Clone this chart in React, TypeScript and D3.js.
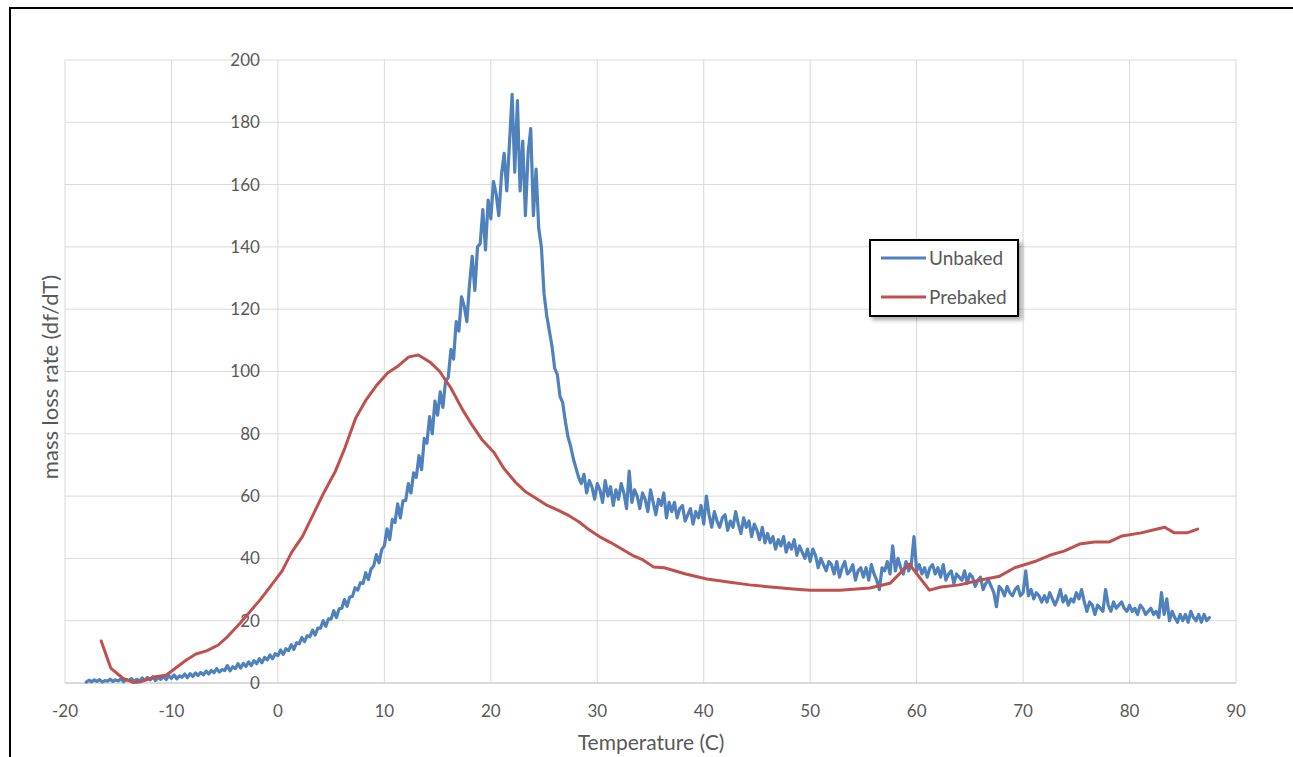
import React from "react";
import * as d3 from "d3";

// axis ticks
const xTicks = [-20, -10, 0, 10, 20, 30, 40, 50, 60, 70, 80, 90];
const yTicks = [0, 20, 40, 60, 80, 100, 120, 140, 160, 180, 200];

// Prebaked: smooth curve
const prebakedTemp = [
  -16.6, -15.7, -14.6, -13.6, -13.0, -11.5, -10.5, -9.6, -8.6, -7.7,
  -6.7, -5.6, -4.7, -3.6, -2.6, -1.6, -0.7, 0.4, 1.3, 2.3,
  3.3, 4.3, 5.4, 6.3, 7.3, 8.3, 9.3, 10.3, 11.3, 12.3,
  13.2, 14.3, 15.2, 16.2, 17.3, 18.2, 19.2, 20.3, 21.2, 22.3,
  23.3, 24.2, 25.3, 26.3, 27.2, 28.3, 29.3, 30.2, 31.3, 32.3,
  33.3, 34.3, 35.3, 36.3, 38.3, 40.3, 42.3, 44.3, 46.3, 48.4,
  50.0, 52.8, 55.6, 57.5, 59.3, 61.2, 62.3, 64.0, 65.9, 67.8,
  69.2, 71.1, 72.5, 73.9, 75.3, 76.7, 78.1, 79.3, 81.1, 82.2,
  83.3, 84.2, 85.4, 86.4,
];
const prebakedRate = [
  13.5, 4.8, 1.6, 0.2, 0.3, 2.0, 2.5, 4.8, 7.4, 9.3,
  10.3, 12.2, 15, 19, 23, 27, 31, 36, 42, 47,
  54, 61, 68, 75.5, 85, 91, 95.7, 99.5, 101.8, 104.7,
  105.3, 103, 100, 95, 88, 83, 78, 74, 69, 64.5,
  61.3, 59.4, 57, 55.5, 54, 51.7, 49, 47, 45, 43,
  41, 39.5, 37.2, 37, 35, 33.4, 32.4, 31.5, 30.8, 30.2,
  29.8, 29.8, 30.5, 32, 38.2, 29.8, 30.8, 31.5, 33, 34.3,
  37, 39, 41, 42.4, 44.6, 45.3, 45.3, 47.2, 48.2, 49.1,
  50, 48.2, 48.2, 49.4,
];

// Unbaked: noisy trace, sampled every 0.25 C starting at -18 C
const unbakedStart = -18;
const unbakedStep = 0.25;
const unbakedRate = [
  // -18 .. -13.25
  0.3, 0.9, 0.4, 1.0, 0.5, 1.1, 0.3, 0.8, 0.6, 1.2, 0.5, 1.0, 0.7, 1.3, 0.4, 1.1, 0.8, 1.4, 0.6, 1.2,
  // -13 .. -8.25
  0.7, 1.6, 0.9, 1.8, 1.0, 2.0, 0.8, 1.7, 1.2, 2.1, 1.1, 2.4, 1.5, 2.6, 1.3, 2.3, 1.8, 2.9, 1.7, 3.0,
  // -8 .. -3.25
  2.1, 3.2, 2.4, 3.4, 2.6, 3.8, 2.9, 4.0, 3.3, 4.6, 3.5, 4.3, 4.0, 5.6, 3.9, 5.2, 4.6, 6.2, 4.8, 6.3,
  // -3 .. 1.75
  5.3, 6.8, 5.6, 7.2, 6.2, 7.8, 6.5, 8.2, 7.4, 9.0, 7.8, 9.4, 8.8, 10.6, 9.2, 11.0, 10.4, 12.3, 10.8, 12.9,
  // 2 .. 6.75
  12.6, 14.6, 13.3, 15.2, 14.8, 17.0, 15.4, 17.6, 17.6, 20.0, 18.2, 20.6, 20.5, 23.2, 21.0, 23.8, 24.0, 26.8, 24.6, 27.6,
  // 7 .. 11.75
  27.8, 30.6, 29.8, 32.2, 32.0, 35.4, 33.2, 36.6, 37.6, 41.2, 38.6, 42.8, 44.0, 49.5, 46.0, 52.5, 51.5, 57.5, 53.0, 58.5,
  // 12 .. 16.75
  58.5, 64.0, 61.0, 67.5, 66.0, 73.0, 68.5, 78.5, 77.0, 85.5, 80.0, 90.5, 86.0, 93.5, 88.5, 97.0, 98.0, 107.0, 104.0, 116.0,
  // 17 .. 21.75
  113, 124, 121, 116, 128, 137, 126, 140, 141, 152, 139, 155, 149, 161, 157, 150, 163, 170, 158, 173,
  // 22 .. 26.75
  189, 164, 187, 158, 174, 150, 170, 178, 150, 165, 146, 140, 125, 118, 113, 108, 101, 99, 92, 90,
  // 27 .. 31.75
  84, 79, 76, 72, 69, 66, 64, 67, 61, 65, 63, 59, 64, 62, 58, 65, 60, 63, 57, 62,
  // 32 .. 36.75
  59, 64, 61, 56, 68, 58, 62, 60, 56, 61, 59, 55, 62, 58, 54, 59, 57, 61, 53, 58,
  // 37 .. 41.75
  55, 58, 53, 56, 57, 52, 54, 56, 51, 55, 53, 57, 51, 60, 54, 50, 55, 52, 50, 53,
  // 42 .. 46.75
  54, 49, 52, 50, 55, 51, 48, 53, 50, 52, 47, 51, 49, 46, 50, 45, 48, 45, 47, 43,
  // 47 .. 51.75
  46, 44, 47, 42, 45, 43, 46, 41, 44, 42, 40, 43, 39, 43, 41, 37, 40, 38, 36, 39,
  // 52 .. 56.75
  38, 35, 39, 34, 37, 39, 35, 36, 38, 33, 36, 37, 34, 37, 33, 38, 35, 33, 30, 37,
  // 57 .. 61.75
  36, 39, 35, 44, 36, 40, 37, 35, 39, 36, 38, 47, 36, 38, 35, 37, 34, 37, 38, 35,
  // 62 .. 66.75
  37, 34, 38, 33, 35, 36, 32, 35, 34, 33, 36, 32, 35, 34, 31, 33, 34, 30, 32, 33,
  // 67 .. 71.75
  31, 29, 24.5, 31, 30, 28, 31, 29, 28, 30, 31, 28, 29, 36, 28, 30, 27, 29, 28, 26,
  // 72 .. 76.75
  28, 26, 29, 27, 25, 27, 30, 26, 28, 25, 27, 26, 29, 27, 30, 26, 23, 26, 25, 22,
  // 77 .. 81.75
  25, 24, 23, 30, 25, 23, 26, 24, 25, 26, 24, 23, 25, 23, 24, 22, 25, 24, 22, 23,
  // 82 .. 86.75
  24, 22, 23, 21, 29, 22, 27, 20, 23, 21, 19.5, 22, 20, 22, 19.5, 23, 21, 20, 22, 19.5,
  // 87 .. 87.5
  22, 20, 21,
];

const W = 1293;
const H = 757;
const plot = { left: 65, right: 1236, top: 60, bottom: 683 };

const grey = "#595959";
const gridColor = "#D9D9D9";
const blue = "#4F81BD";
const red = "#C0504D";
const font = "Lato, 'Open Sans', sans-serif";

export default function App() {
  const x = d3.scaleLinear().domain([-20, 90]).range([plot.left, plot.right]);
  const y = d3.scaleLinear().domain([0, 200]).range([plot.bottom, plot.top]);

  const line = d3
    .line<[number, number]>()
    .x((d) => x(d[0]))
    .y((d) => y(d[1]));

  const unbaked: [number, number][] = unbakedRate.map((v, i) => [unbakedStart + i * unbakedStep, v]);
  const prebaked: [number, number][] = prebakedTemp.map((t, i) => [t, prebakedRate[i]]);

  const legX = 870, legY = 240;

  return (
    <svg
      width={W}
      height={H}
      style={{ position: "absolute", left: 0, top: 0, background: "#fff" }}
    >
      <defs>
        <filter id="shadow" x="-20%" y="-20%" width="150%" height="150%">
          <feDropShadow dx="3" dy="3" stdDeviation="2" floodColor="#000" floodOpacity="0.35" />
        </filter>
      </defs>

      {/* outer chart frame */}
      <rect x={10} y={8} width={W + 20} height={H + 20} fill="#fff" stroke="#000" strokeWidth={2} />

      {/* gridlines */}
      {xTicks.map((t) => (
        <line key={"gx" + t} x1={x(t)} x2={x(t)} y1={plot.top} y2={plot.bottom} stroke={gridColor} strokeWidth={1} />
      ))}
      {yTicks.map((t) => (
        <line key={"gy" + t} x1={plot.left} x2={plot.right} y1={y(t)} y2={y(t)} stroke={gridColor} strokeWidth={1} />
      ))}
      <line x1={plot.left} x2={plot.right} y1={y(0)} y2={y(0)} stroke="#C8C8C8" strokeWidth={1.2} />

      {/* y tick labels sit along the x = 0 axis */}
      {yTicks.map((t) => (
        <text
          key={"ly" + t}
          x={x(0) - 18}
          y={y(t)}
          dy="0.35em"
          textAnchor="end"
          fontFamily={font}
          fontSize={17}
          fill={grey}
        >
          {t}
        </text>
      ))}
      {xTicks.map((t) => (
        <text
          key={"lx" + t}
          x={x(t)}
          y={711}
          dy="0.35em"
          textAnchor="middle"
          fontFamily={font}
          fontSize={17}
          fill={grey}
        >
          {t}
        </text>
      ))}

      {/* axis titles */}
      <text x={651} y={743} dy="0.35em" textAnchor="middle" fontFamily={font} fontSize={21} fill={grey}>
        Temperature (C)
      </text>
      <text
        transform="translate(50,377) rotate(-90)"
        dy="0.35em"
        textAnchor="middle"
        fontFamily={font}
        fontSize={22}
        fill={grey}
      >
        mass loss rate (df/dT)
      </text>

      {/* series */}
      <path d={line(unbaked) || ""} fill="none" stroke={blue} strokeWidth={3.2} strokeLinejoin="round" strokeLinecap="round" />
      <path d={line(prebaked) || ""} fill="none" stroke={red} strokeWidth={3} strokeLinejoin="round" strokeLinecap="round" />

      {/* legend */}
      <g>
        <rect x={legX} y={legY} width={148} height={76} fill="#fff" stroke="#000" strokeWidth={2} filter="url(#shadow)" />
        <line x1={legX + 11} x2={legX + 56} y1={legY + 18} y2={legY + 18} stroke={blue} strokeWidth={3} />
        <text x={legX + 59} y={legY + 18} dy="0.35em" fontFamily={font} fontSize={19} fill={grey}>
          Unbaked
        </text>
        <line x1={legX + 11} x2={legX + 56} y1={legY + 57} y2={legY + 57} stroke={red} strokeWidth={3} />
        <text x={legX + 59} y={legY + 57} dy="0.35em" fontFamily={font} fontSize={19} fill={grey}>
          Prebaked
        </text>
      </g>
    </svg>
  );
}
